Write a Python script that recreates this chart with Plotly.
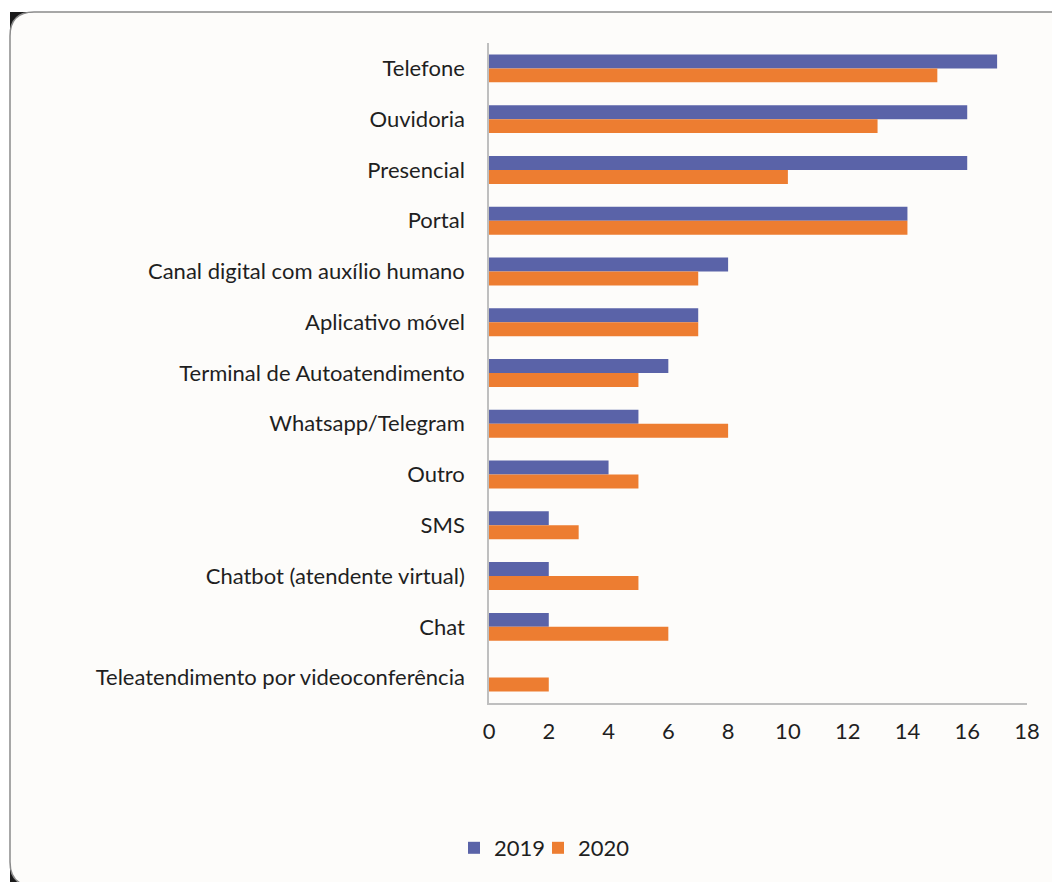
import plotly.graph_objects as go

categories = [
    "Telefone", "Ouvidoria", "Presencial", "Portal",
    "Canal digital com auxílio humano", "Aplicativo móvel",
    "Terminal de Autoatendimento", "Whatsapp/Telegram", "Outro", "SMS",
    "Chatbot (atendente virtual)", "Chat", "Teleatendimento por videoconferência",
]
values_2019 = [17, 16, 16, 14, 8, 7, 6, 5, 4, 2, 2, 2, 0]
values_2020 = [15, 13, 10, 14, 7, 7, 5, 8, 5, 3, 5, 6, 2]
x_ticks = [0, 2, 4, 6, 8, 10, 12, 14, 16, 18]

W, H = 1052, 882
L, R, T, B = 489, 1027, 43, 703  # plot area in pixels


def px(x):
    return (x - L) / (R - L)


def py(y):
    return (B - y) / (B - T)


FONT = "Lato"
TXT = "#1f1f1f"
FS = 22

fig = go.Figure()
fig.add_trace(go.Bar(y=categories, x=values_2019, name="2019", orientation="h",
                     marker=dict(color="#5A63A8", line=dict(width=0)),
                     legend="legend"))
fig.add_trace(go.Bar(y=categories, x=values_2020, name="2020", orientation="h",
                     marker=dict(color="#ED7D31", line=dict(width=0)),
                     legend="legend2"))

# card background with rounded left corners
x0, y0, x1, y1, r = 10, 12, 1060, 886, 24
card = (f"M {px(x0)},{py(y0 + r)} Q {px(x0)},{py(y0)} {px(x0 + r)},{py(y0)} "
        f"L {px(x1)},{py(y0)} L {px(x1)},{py(y1)} L {px(x0 + r)},{py(y1)} "
        f"Q {px(x0)},{py(y1)} {px(x0)},{py(y1 - r)} Z")
shapes = [
    dict(type="rect", xref="paper", yref="paper", layer="below",
         x0=px(x0), x1=px(x0 + r), y0=py(y0), y1=py(y0 + r),
         fillcolor="#1a1a1a", line=dict(width=0)),
    dict(type="rect", xref="paper", yref="paper", layer="below",
         x0=px(x0), x1=px(x0 + r), y0=py(y1 - r), y1=py(y1),
         fillcolor="#1a1a1a", line=dict(width=0)),
    dict(type="path", xref="paper", yref="paper", layer="below", path=card,
         fillcolor="#FDFCFA", line=dict(color="#8a8a8a", width=1.5)),
]

legend_style = dict(orientation="h", xanchor="left", yanchor="middle",
                    font=dict(size=FS, color=TXT), bgcolor="rgba(0,0,0,0)",
                    itemwidth=30)

fig.update_layout(
    width=W, height=H,
    margin=dict(l=L, r=W - R, t=T, b=H - B),
    paper_bgcolor="white", plot_bgcolor="rgba(0,0,0,0)",
    barmode="group", bargap=0.45, bargroupgap=0,
    font=dict(family=FONT, size=FS, color=TXT),
    shapes=shapes,
    showlegend=True,
    legend=dict(x=px(454), y=py(848), **legend_style),
    legend2=dict(x=px(538), y=py(848), **legend_style),
    xaxis=dict(range=[0, 18], tickvals=x_ticks, showgrid=False, zeroline=False,
               showline=True, linecolor="#BFBFBF", linewidth=1.5,
               ticks="", ticklabelstandoff=8, fixedrange=True),
    yaxis=dict(autorange="reversed", showgrid=False, zeroline=False,
               showline=True, linecolor="#BFBFBF", linewidth=1.5,
               ticks="", ticklabelstandoff=18, fixedrange=True),
)

fig.write_html("out.html")
